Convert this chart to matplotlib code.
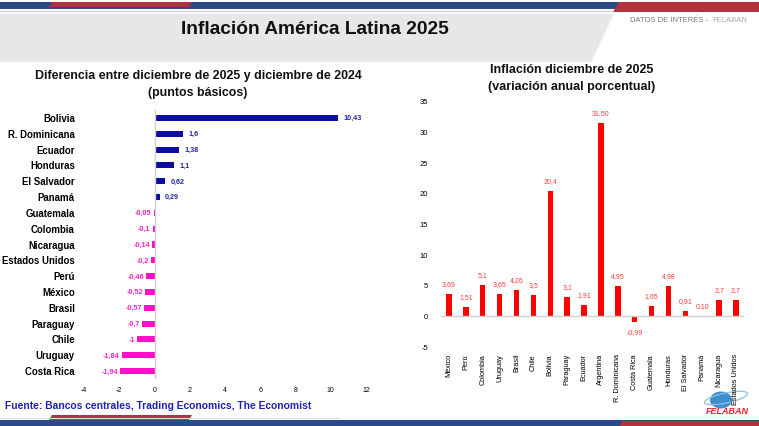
import matplotlib
matplotlib.use('Agg')
import matplotlib.pyplot as plt
from matplotlib.patches import Polygon, Ellipse

plt.rcParams['font.family'] = ['Liberation Sans', 'DejaVu Sans']

# datos - diferencia dic 2025 vs dic 2024
dif_paises = ['Bolivia', 'R. Dominicana', 'Ecuador', 'Honduras', 'El Salvador', 'Panamá',
              'Guatemala', 'Colombia', 'Nicaragua', 'Estados Unidos', 'Perú', 'México',
              'Brasil', 'Paraguay', 'Chile', 'Uruguay', 'Costa Rica']
dif_valores = [10.43, 1.6, 1.38, 1.1, 0.62, 0.29, -0.05, -0.1, -0.14, -0.2, -0.46, -0.52,
               -0.57, -0.7, -1, -1.84, -1.94]
dif_etiquetas = ['10,43', '1,6', '1,38', '1,1', '0,62', '0,29', '-0,05', '-0,1', '-0,14', '-0,2',
                 '-0,46', '-0,52', '-0,57', '-0,7', '-1', '-1,84', '-1,94']
dif_ticks = [-4, -2, 0, 2, 4, 6, 8, 10, 12]

# datos - inflacion dic 2025
inf_paises = ['México', 'Perú', 'Colombia', 'Uruguay', 'Brasil', 'Chile', 'Bolivia', 'Paraguay',
              'Ecuador', 'Argentina', 'R. Dominicana', 'Costa Rica', 'Guatemala', 'Honduras',
              'El Salvador', 'Panamá', 'Nicaragua', 'Estados Unidos']
inf_valores = [3.69, 1.51, 5.1, 3.65, 4.26, 3.5, 20.4, 3.1, 1.91, 31.50, 4.95, -0.99, 1.65,
               4.98, 0.91, 0.10, 2.7, 2.7]
inf_etiquetas = ['3,69', '1,51', '5,1', '3,65', '4,26', '3,5', '20,4', '3,1', '1,91', '31,50',
                 '4,95', '-0,99', '1,65', '4,98', '0,91', '0,10', '2,7', '2,7']
inf_ticks = [-5, 0, 5, 10, 15, 20, 25, 30, 35]

W, H = 759, 426
azul_band = '#2b4a87'
rojo_band = '#b2313f'

fig = plt.figure(figsize=(W / 100, H / 100), dpi=100)

# fondo / decoracion en pixeles
bg = fig.add_axes([0, 0, 1, 1])
bg.set_xlim(0, W)
bg.set_ylim(H, 0)
bg.axis('off')

bg.add_patch(Polygon([[0, 2], [W, 2], [W, 9], [0, 9]], closed=True, color=azul_band, lw=0))
bg.add_patch(Polygon([[52, 2], [192, 2], [189, 7], [49, 7]], closed=True, color=rojo_band, lw=0))
bg.add_patch(Polygon([[619, 2], [W, 2], [W, 12], [613, 12]], closed=True, color=rojo_band, lw=0))
bg.plot([0, 612], [11, 11], color='#c9cdd6', lw=0.8)
bg.add_patch(Polygon([[0, 14], [614, 14], [591, 62], [0, 62]], closed=True, color='#e6e7e9', lw=0))

bg.add_patch(Polygon([[0, 420], [W, 420], [W, 426], [0, 426]], closed=True, color=azul_band, lw=0))
bg.add_patch(Polygon([[52, 415], [192, 415], [189, 420], [49, 420]], closed=True, color=rojo_band, lw=0))
bg.add_patch(Polygon([[622, 421], [W, 421], [W, 426], [620, 426]], closed=True, color=rojo_band, lw=0))
bg.plot([0, 340], [417.5, 417.5], color='#dcdcdc', lw=0.8)

bg.text(315, 29, 'Inflación América Latina 2025', fontsize=13.8, fontweight='bold',
        ha='center', va='center', color='#111111')
bg.text(630, 20, 'DATOS DE INTERÉS - ', fontsize=5.5, ha='left', va='center', color='#777777')
bg.text(712, 20, 'FELABAN', fontsize=5.5, ha='left', va='center', color='#aaaaaa')

bg.text(198, 76, 'Diferencia entre diciembre de 2025 y diciembre de 2024', fontsize=8.9,
        fontweight='bold', ha='center', va='center', color='#111111')
bg.text(198, 93, '(puntos básicos)', fontsize=8.9, fontweight='bold', ha='center', va='center',
        color='#111111')
bg.text(572, 70, 'Inflación diciembre de 2025', fontsize=9, fontweight='bold',
        ha='center', va='center', color='#111111')
bg.text(572, 87, '(variación anual porcentual)', fontsize=9, fontweight='bold',
        ha='center', va='center', color='#111111')

bg.text(5, 406, 'Fuente: Bancos centrales, Trading Economics, The Economist', fontsize=7.4,
        fontweight='bold', ha='left', va='center', color='#1c22b0')

# logo
bg.add_patch(Ellipse((721, 400), 22, 17, color='#3d8fd0', lw=0))
bg.add_patch(Ellipse((726, 398), 44, 10, angle=-12, fill=False, ec='#8fbfe6', lw=0.9))
bg.text(727, 412, 'FELABAN', fontsize=6.5, fontweight='bold', style='italic',
        ha='center', va='center', color='#e8202a')

# grafico izquierdo - barras horizontales
ax1 = fig.add_axes([84 / W, 1 - 379 / H, 282 / W, 269 / H])
ypos = list(range(len(dif_paises)))
colores1 = ['#0c0c9e' if v >= 0 else '#ff10c8' for v in dif_valores]
ax1.barh(ypos, dif_valores, height=0.38, color=colores1)
ax1.set_ylim(len(dif_paises) - 0.5, -0.5)
ax1.set_xlim(-4, 12)
ax1.axvline(0, color='#d0d0d0', lw=1)
for y, v, t in zip(ypos, dif_valores, dif_etiquetas):
    if v >= 0:
        ax1.text(v + 0.3, y + 0.05, t, fontsize=5.2, fontweight='bold', color='#2828a0',
                 ha='left', va='center')
    else:
        ax1.text(v - 0.12, y + 0.05, t, fontsize=5.2, fontweight='bold', color='#ff20c8',
                 ha='right', va='center')
ax1.set_yticks(ypos)
ax1.set_yticklabels(dif_paises, fontsize=6.9, fontweight='bold')
ax1.set_xticks(dif_ticks)
ax1.set_xticklabels([str(t) for t in dif_ticks], fontsize=5)
ax1.tick_params(axis='y', length=0, pad=6.5)
ax1.tick_params(axis='x', length=0, pad=6)
for s in ax1.spines.values():
    s.set_visible(False)
ax1.patch.set_alpha(0)

# grafico derecho - barras verticales
ax2 = fig.add_axes([440.6 / W, 1 - 347 / H, 303.8 / W, 245 / H])
xpos = list(range(len(inf_paises)))
ax2.bar(xpos, inf_valores, width=0.32, color='#ff0000')
ax2.set_xlim(-0.5, len(inf_paises) - 0.5)
ax2.set_ylim(-5, 35)
ax2.axhline(0, color='#d0d0d0', lw=1)
for x, v, t in zip(xpos, inf_valores, inf_etiquetas):
    if v >= 0:
        ax2.text(x, v + 1.0, t, fontsize=5, color='#ff3b3b', ha='center', va='bottom')
    else:
        ax2.text(x, v - 1.0, t, fontsize=5, color='#ff3b3b', ha='center', va='top')
ax2.set_xticks(xpos)
ax2.set_xticklabels(inf_paises, fontsize=5.3, rotation=90)
ax2.set_yticks(inf_ticks)
ax2.set_yticklabels([str(t) for t in inf_ticks], fontsize=5.5)
ax2.tick_params(axis='both', length=0)
ax2.tick_params(axis='y', pad=9)
ax2.tick_params(axis='x', pad=5)
for s in ax2.spines.values():
    s.set_visible(False)
ax2.patch.set_alpha(0)

fig.savefig('out.png', dpi=100)
